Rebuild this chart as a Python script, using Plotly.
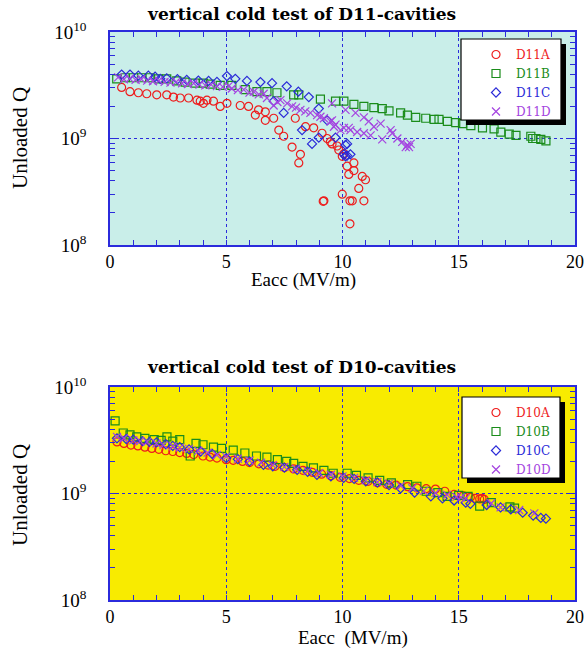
import plotly.graph_objects as go

W, H = 586, 651

# ---------------- data (Q in units of 1e9) ----------------
d11a_x = [0.50, 0.86, 1.22, 1.58, 2.01, 2.44, 2.73, 3.02, 3.38, 3.74, 3.88, 4.02, 4.17, 4.45, 4.74,
          5.03, 5.60, 5.96, 6.25, 6.39, 6.68, 6.68, 7.04, 7.26, 7.47, 7.83, 7.97, 8.12, 8.19, 8.41,
          8.76, 9.12, 9.17, 9.20, 9.34, 9.48, 9.55, 9.77, 9.84, 9.99, 9.99, 10.06, 10.20, 10.27,
          10.32, 10.32, 10.42, 10.49, 10.49, 10.70, 10.85, 10.92, 10.99]
d11a_q = [3.02, 2.75, 2.69, 2.63, 2.57, 2.57, 2.45, 2.40, 2.40, 2.29, 2.24, 2.14, 2.29, 2.24, 2.00,
          2.14, 2.04, 2.00, 1.66, 1.86, 1.78, 1.48, 1.55, 1.20, 1.05, 0.83, 1.55, 0.59, 0.71, 1.29,
          1.26, 1.12, 0.257, 0.26, 1.00, 0.93, 0.89, 0.85, 0.78, 0.68, 0.30, 0.72, 0.55, 0.46,
          0.26, 0.158, 0.26, 0.59, 0.50, 0.34, 0.44, 0.26, 0.41]

d11b_x = [0.29, 0.65, 1.01, 1.36, 1.72, 2.08, 2.44, 2.87, 3.23, 3.66, 4.02, 4.31, 4.74, 5.24, 5.82,
          6.32, 6.75, 7.18, 7.90, 8.12, 9.05, 9.70, 10.06, 10.49, 10.92, 11.35, 11.71, 12.00, 12.50,
          12.79, 13.15, 13.58, 13.94, 14.15, 14.51, 14.87, 15.16, 15.52, 16.02, 16.52, 16.81, 17.17,
          17.46, 18.10, 18.18, 18.32, 18.53, 18.75]
d11b_q = [3.63, 3.72, 3.72, 3.72, 3.72, 3.63, 3.63, 3.47, 3.39, 3.31, 3.31, 3.24, 3.16, 3.16, 2.88,
          2.75, 2.75, 2.69, 2.57, 2.57, 2.34, 2.24, 2.24, 2.09, 2.00, 1.95, 1.91, 1.82, 1.74,
          1.66, 1.58, 1.55, 1.51, 1.51, 1.45, 1.41, 1.38, 1.32, 1.26, 1.23, 1.15, 1.10,
          1.07, 1.05, 1.00, 1.00, 0.98, 0.95]

d11c_x = [0.50, 0.86, 1.22, 1.65, 1.94, 2.16, 2.44, 2.90, 3.30, 3.80, 4.24, 4.60, 5.03, 5.39, 5.89,
          6.47, 6.97, 7.04, 7.47, 7.60, 8.10, 8.26, 8.55, 8.69, 8.98, 8.98, 9.34, 9.70, 10.06,
          10.13, 10.13, 10.20, 10.20, 10.34]
d11c_q = [3.98, 3.98, 3.89, 3.89, 3.80, 3.63, 3.67, 3.60, 3.55, 3.50, 3.47, 3.40, 3.86, 3.63, 3.47,
          3.39, 3.31, 2.24, 1.74, 3.09, 2.75, 1.20, 2.45, 0.89, 1.91, 1.02, 1.48, 1.02, 0.71,
          0.87, 0.68, 0.69, 0.89, 0.71]

d11d_x = [0.35, 0.60, 0.85, 1.10, 1.35, 1.60, 1.85, 2.10, 2.35, 2.60, 2.85, 3.10, 3.35, 3.60, 3.85,
          4.10, 4.35, 4.60, 4.85, 5.10, 5.24, 5.50, 5.75, 6.00, 6.18, 6.40, 6.61, 6.75, 7.04, 7.20,
          7.33, 7.62, 7.83, 8.00, 8.19, 8.40, 8.62, 8.91, 9.05, 9.20, 9.48, 9.55, 9.55, 9.63, 9.70,
          9.91, 10.06, 10.13, 10.27, 10.34, 10.56, 10.63, 10.92, 10.92, 11.13, 11.21, 11.35, 11.64,
          11.71, 12.07, 12.14, 12.36, 12.57, 12.72, 12.79, 12.86, 12.93]
d11d_q = [3.75, 3.60, 3.65, 3.55, 3.60, 3.50, 3.45, 3.50, 3.40, 3.35, 3.40, 3.30, 3.25, 3.30, 3.20,
          3.15, 3.20, 3.10, 3.05, 3.10, 2.95, 2.85, 2.88, 2.70, 2.75, 2.60, 2.63, 2.40, 2.04, 2.20,
          2.29, 2.14, 2.00, 1.95, 1.86, 1.80, 1.74, 1.66, 1.60, 1.55, 1.45, 2.14, 1.48, 1.29, 1.35,
          1.20, 1.26, 1.86, 1.26, 1.20, 1.74, 1.15, 1.58, 1.12, 1.45, 1.07, 1.29, 1.38,
          0.98, 1.20, 1.12, 1.00, 0.93, 0.83, 0.87, 0.83, 0.89]

d10a_x = [0.3, 0.6, 0.9, 1.2, 1.5, 1.8, 2.1, 2.4, 2.7, 3.0, 3.3, 3.6, 4.0, 4.3, 4.6, 5.0, 5.3, 5.7,
          6.0, 6.4, 6.8, 7.1, 7.5, 7.9, 8.3, 8.7, 9.1, 9.5, 9.9, 10.3, 10.7, 11.1, 11.5, 11.9, 12.3,
          12.8, 13.2, 13.6, 14.0, 14.4, 14.8, 15.2, 15.5, 15.7, 15.9, 16.0, 16.1]
d10a_q = [3.05, 2.95, 2.85, 2.80, 2.72, 2.65, 2.60, 2.52, 2.48, 2.42, 2.38, 2.32, 2.25, 2.20, 2.15,
          2.08, 2.05, 2.00, 1.95, 1.90, 1.85, 1.80, 1.75, 1.70, 1.65, 1.58, 1.52, 1.47, 1.42, 1.38,
          1.33, 1.30, 1.26, 1.22, 1.20, 1.16, 1.13, 1.11, 1.10, 1.05, 0.98, 0.95, 0.92, 0.90, 0.89,
          0.90, 0.88]

d10b_x = [0.22, 0.57, 0.86, 1.15, 1.5, 1.9, 2.2, 2.45, 2.7, 3.0, 3.45, 3.7, 4.0, 4.45, 4.8, 5.3,
          5.8, 6.3, 6.75, 7.2, 7.6, 7.9, 8.3, 8.75, 9.2, 9.6, 10.2, 10.6, 11.1, 11.6, 12.1, 12.8,
          13.2, 13.6, 14.1, 14.5, 15.0, 15.4, 15.9, 16.4, 17.2, 17.4]
d10b_q = [4.80, 3.70, 3.55, 3.40, 3.30, 3.20, 3.15, 3.40, 3.10, 3.20, 2.25, 2.95, 2.87, 2.73, 2.65,
          2.55, 2.40, 2.25, 2.20, 2.08, 2.00, 1.92, 1.80, 1.74, 1.65, 1.55, 1.55, 1.48, 1.40, 1.33,
          1.26, 1.21, 1.17, 1.05, 1.02, 0.94, 0.96, 0.94, 0.76, 0.82, 0.75, 0.73]

d10c_x = [0.3, 0.7, 1.0, 1.4, 1.7, 2.0, 2.4, 2.7, 3.0, 3.4, 3.9, 4.4, 5.0, 5.5, 6.0, 6.6, 7.0, 7.5,
          8.05, 8.5, 8.9, 9.5, 10.05, 10.5, 11.0, 11.5, 12.0, 12.5, 13.1, 13.8, 14.3, 14.8, 15.3,
          15.5, 16.2, 16.8, 17.24, 17.75, 18.2, 18.53, 18.75]
d10c_q = [3.30, 3.25, 3.20, 3.10, 3.05, 3.02, 2.90, 2.80, 2.73, 2.60, 2.48, 2.35, 2.15, 2.10, 2.00,
          1.86, 1.80, 1.75, 1.67, 1.60, 1.50, 1.45, 1.40, 1.37, 1.30, 1.27, 1.20, 1.12, 1.02, 0.94,
          0.90, 0.86, 0.82, 0.80, 0.78, 0.74, 0.71, 0.66, 0.62, 0.59, 0.58]

d10d_x = [0.3, 0.6, 1.0, 1.3, 1.6, 2.0, 2.3, 2.7, 3.0, 3.4, 3.8, 4.2, 4.6, 5.0, 5.5, 6.0, 6.5, 7.0,
          7.5, 8.0, 8.5, 9.0, 9.5, 10.0, 10.5, 11.0, 11.5, 12.0, 12.5, 13.0, 13.5, 14.0, 14.5, 14.9,
          15.1, 15.3, 16.4, 16.8, 17.6, 18.25]
d10d_q = [3.40, 3.30, 3.15, 3.10, 3.05, 2.95, 2.85, 2.78, 2.70, 2.62, 2.52, 2.42, 2.30, 2.22, 2.12,
          2.04, 1.95, 1.85, 1.78, 1.70, 1.62, 1.55, 1.50, 1.45, 1.40, 1.33, 1.28, 1.24, 1.18, 1.12,
          1.06, 1.01, 0.97, 0.93, 0.92, 0.90, 0.81, 0.74, 0.70, 0.65]

top_names = ["D11A", "D11B", "D11C", "D11D"]
bot_names = ["D10A", "D10B", "D10C", "D10D"]
x_ticks = [0, 5, 10, 15, 20]
y_ticks = [1e8, 1e9, 1e10]
y_ticktext = ["10<sup>8</sup>", "10<sup>9</sup>", "10<sup>10</sup>"]

# ---------------- styling ----------------
colors = ["#ee1c1c", "#1a8c1a", "#2a2ad8", "#a444e0"]
symbols = ["circle-open", "square-open", "diamond-open", "x-thin-open"]
sizes = [8, 8, 7, 8]
SERIF = "Liberation Serif, Times New Roman, serif"
WIDE_SERIF = "DejaVu Serif, serif"
BLUE = "#2b2bdc"


def px(x):
    return x / W


def py(y):
    return 1 - y / H


fig = go.Figure()

top_data = [(d11a_x, d11a_q), (d11b_x, d11b_q), (d11c_x, d11c_q), (d11d_x, d11d_q)]
bot_data = [(d10a_x, d10a_q), (d10b_x, d10b_q), (d10c_x, d10c_q), (d10d_x, d10d_q)]

for i, (name, (xs, qs)) in enumerate(zip(top_names, top_data)):
    fig.add_trace(go.Scatter(
        x=xs, y=[q * 1e9 for q in qs], mode="markers", xaxis="x", yaxis="y",
        name=f"<span style='color:{colors[i]}'>{name}</span>", legend="legend",
        marker=dict(symbol=symbols[i], size=sizes[i], color=colors[i],
                    line=dict(width=1.2, color=colors[i]))))

for i, (name, (xs, qs)) in enumerate(zip(bot_names, bot_data)):
    fig.add_trace(go.Scatter(
        x=xs, y=[q * 1e9 for q in qs], mode="markers", xaxis="x2", yaxis="y2",
        name=f"<span style='color:{colors[i]}'>{name}</span>", legend="legend2",
        marker=dict(symbol=symbols[i], size=sizes[i], color=colors[i],
                    line=dict(width=1.2, color=colors[i]))))

minor_y = [m * 10 ** e for e in (8, 9) for m in range(2, 10)]


def xaxis_cfg(anchor):
    return dict(
        domain=[px(110), px(575)], anchor=anchor, range=[0, 20], automargin=False,
        tickvals=x_ticks, ticks="inside", ticklen=5, tickwidth=1, tickcolor=BLUE,
        minor=dict(dtick=1, ticks="inside", ticklen=5, tickcolor=BLUE, showgrid=False),
        showline=True, linecolor=BLUE, linewidth=1.5, mirror="allticks",
        showgrid=True, gridcolor=BLUE, griddash="dot", gridwidth=1, zeroline=False,
        tickfont=dict(family=SERIF, size=18, color="black"), ticklabelstandoff=0,
    )


def yaxis_cfg(anchor, top, bottom):
    return dict(
        domain=[py(bottom), py(top)], anchor=anchor, type="log", range=[8, 10], automargin=False,
        tickvals=y_ticks, ticktext=y_ticktext, ticks="inside", ticklen=6, tickcolor=BLUE,
        minor=dict(tickvals=minor_y, ticks="inside", ticklen=5, tickcolor=BLUE, showgrid=False),
        showline=True, linecolor=BLUE, linewidth=1.5, mirror="allticks",
        showgrid=True, gridcolor=BLUE, griddash="dot", gridwidth=1, zeroline=False,
        tickfont=dict(family=SERIF, size=19, color="black"), ticklabelstandoff=18,
    )


shapes = [
    dict(type="rect", xref="x domain", yref="y domain", x0=0, x1=1, y0=0, y1=1,
         fillcolor="#c9eee9", line=dict(width=0), layer="below"),
    dict(type="rect", xref="x2 domain", yref="y2 domain", x0=0, x1=1, y0=0, y1=1,
         fillcolor="#f8eb00", line=dict(width=0), layer="below"),
]

# legend boxes with drop shadow
for (lx0, ly0, lx1, ly1) in [(461, 39, 561, 120), (462, 397, 560, 478)]:
    shapes.append(dict(type="rect", xref="paper", yref="paper",
                       x0=px(lx0 + 5), x1=px(lx1 + 5), y0=py(ly1 + 5), y1=py(ly0 + 5),
                       fillcolor="black", line=dict(width=0), layer="above"))
    shapes.append(dict(type="rect", xref="paper", yref="paper",
                       x0=px(lx0), x1=px(lx1), y0=py(ly1), y1=py(ly0),
                       fillcolor="white", line=dict(width=1.2, color="black"), layer="above"))

annotations = [
    dict(text="<b>vertical cold test of D11-cavities</b>", x=px(301), y=py(14),
         font=dict(family=WIDE_SERIF, size=17, color="black")),
    dict(text="<b>vertical cold test of D10-cavities</b>", x=px(301), y=py(367),
         font=dict(family=WIDE_SERIF, size=17, color="black")),
    dict(text="Eacc (MV/m)", x=px(304), y=py(280),
         font=dict(family=SERIF, size=19, color="black")),
    dict(text="Eacc  (MV/m)", x=px(353), y=py(638),
         font=dict(family=SERIF, size=19, color="black")),
    dict(text="Unloaded Q", x=px(20), y=py(138), textangle=-90,
         font=dict(family=SERIF, size=21, color="black")),
    dict(text="Unloaded Q", x=px(20), y=py(495), textangle=-90,
         font=dict(family=SERIF, size=21, color="black")),
]
for a in annotations:
    a.update(xref="paper", yref="paper", showarrow=False, xanchor="center", yanchor="middle")

legend_common = dict(bgcolor="rgba(0,0,0,0)", borderwidth=0, xanchor="left", yanchor="top",
                     font=dict(family=WIDE_SERIF, size=12, color="black"), itemwidth=30)

fig.update_layout(
    width=W, height=H, margin=dict(l=0, r=0, t=0, b=0, autoexpand=False),
    paper_bgcolor="white", plot_bgcolor="rgba(0,0,0,0)",
    xaxis=xaxis_cfg("y"), yaxis=yaxis_cfg("x", 32, 245),
    xaxis2=xaxis_cfg("y2"), yaxis2=yaxis_cfg("x2", 387, 600),
    shapes=shapes, annotations=annotations,
    legend=dict(x=px(476), y=py(40), **legend_common),
    legend2=dict(x=px(476), y=py(398), **legend_common),
    showlegend=True,
)

fig.write_html("out.html", config={"displayModeBar": False},
               post_script="document.body.style.margin='0px';document.body.style.overflow='hidden';")
